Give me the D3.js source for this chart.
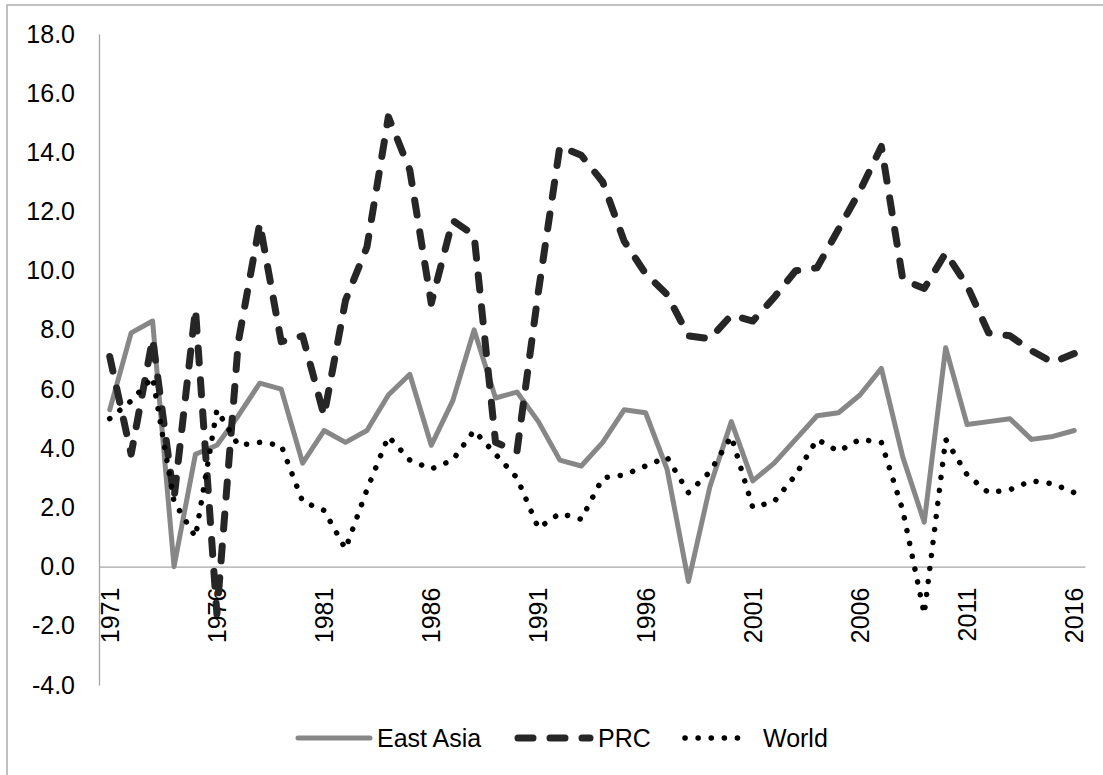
<!DOCTYPE html>
<html>
<head>
<meta charset="utf-8">
<script src="https://cdn.jsdelivr.net/npm/d3@7"></script>
<style>
  body { margin: 0; background: #fff; }
  svg { font-family: "Liberation Sans", Arial, sans-serif; }
</style>
</head>
<body>
<div class="visHolder"></div>
<script>
var years = d3.range(1971, 2017);

var eastAsia = [5.3, 7.9, 8.3, 0.0, 3.8, 4.1, 5.1, 6.2, 6.0, 3.5,
  4.6, 4.2, 4.6, 5.8, 6.5, 4.1, 5.6, 8.0, 5.7, 5.9,
  4.9, 3.6, 3.4, 4.2, 5.3, 5.2, 3.3, -0.5, 2.7, 4.9,
  2.9, 3.5, 4.3, 5.1, 5.2, 5.8, 6.7, 3.7, 1.5, 7.4,
  4.8, 4.9, 5.0, 4.3, 4.4, 4.6];

var prc = [7.1, 3.8, 7.7, 2.3, 8.7, -1.6, 7.6, 11.6, 7.6, 7.8,
  5.1, 9.0, 10.8, 15.2, 13.4, 8.9, 11.7, 11.2, 4.2, 3.9,
  9.3, 14.2, 13.9, 13.0, 11.0, 9.9, 9.2, 7.8, 7.7, 8.5,
  8.3, 9.1, 10.0, 10.1, 11.4, 12.7, 14.2, 9.7, 9.4, 10.6,
  9.5, 7.9, 7.8, 7.3, 6.9, 7.2];

var world = [5.0, 5.6, 6.4, 2.2, 1.0, 5.3, 4.1, 4.2, 4.1, 2.2,
  1.9, 0.6, 2.6, 4.4, 3.6, 3.3, 3.6, 4.6, 3.8, 3.0,
  1.3, 1.8, 1.6, 3.0, 3.1, 3.4, 3.7, 2.5, 3.2, 4.4,
  2.0, 2.2, 3.1, 4.3, 3.9, 4.3, 4.2, 1.9, -1.6, 4.3,
  3.1, 2.5, 2.6, 2.9, 2.8, 2.5];

var yTicks = [-4, -2, 0, 2, 4, 6, 8, 10, 12, 14, 16, 18];
var xTickYears = [1971, 1976, 1981, 1986, 1991, 1996, 2001, 2006, 2011, 2016];

var seriesNames = ['East Asia', 'PRC', 'World'];

var width = 1103,
  height = 775,
  fontSize = 25;

var svg = d3
  .select('.visHolder')
  .append('svg')
  .attr('width', width)
  .attr('height', height);

// chart border (only left/top edges fall inside the picture)
svg
  .append('rect')
  .attr('x', 7)
  .attr('y', 5)
  .attr('width', 1110)
  .attr('height', 800)
  .attr('fill', 'none')
  .attr('stroke', '#a0a0a0')
  .attr('stroke-width', 1.3);

var xScale = d3
  .scaleBand()
  .domain(years)
  .range([99, 1085]);

var yScale = d3.scaleLinear().domain([-4, 18]).range([685, 34]);

var yAxis = d3
  .axisLeft(yScale)
  .tickValues(yTicks)
  .tickFormat(function (d) {
    return d.toFixed(1); // plain hyphen for negatives, like the original
  })
  .tickSize(0)
  .tickPadding(24);

var gy = svg
  .append('g')
  .attr('transform', 'translate(99, 0)')
  .call(yAxis);
gy.select('.domain').attr('stroke', '#a6a6a6').attr('stroke-width', 1.3);
gy.selectAll('text')
  .attr('font-size', fontSize)
  .attr('fill', '#000')
  .attr('font-family', '"Liberation Sans", Arial, sans-serif');

var xAxis = d3
  .axisBottom(xScale)
  .tickValues(xTickYears)
  .tickSize(0)
  .tickSizeOuter(0);

var gx = svg
  .append('g')
  .attr('transform', 'translate(0, ' + yScale(0) + ')')
  .call(xAxis);
gx.select('.domain').attr('stroke', '#a6a6a6').attr('stroke-width', 1.3);
gx.selectAll('text')
  .attr('font-size', fontSize)
  .attr('fill', '#000')
  .attr('font-family', '"Liberation Sans", Arial, sans-serif')
  .attr('transform', 'rotate(-90)')
  .attr('x', -21)
  .attr('y', 0)
  .attr('dy', '0.36em')
  .style('text-anchor', 'end');

var line = d3
  .line()
  .x(function (d, i) {
    return xScale(years[i]) + xScale.bandwidth() / 2;
  })
  .y(function (d) {
    return yScale(d);
  });

var styles = [
  { color: '#878787', w: 5, dash: null, cap: 'round' },
  { color: '#262626', w: 7, dash: '15,17', cap: 'round' },
  { color: '#000000', w: 5.5, dash: '0.1,13', cap: 'round' }
];

[eastAsia, prc, world].forEach(function (data, k) {
  var s = styles[k];
  svg
    .append('path')
    .datum(data)
    .attr('d', line)
    .attr('fill', 'none')
    .attr('stroke', s.color)
    .attr('stroke-width', s.w)
    .attr('stroke-linejoin', 'round')
    .attr('stroke-linecap', s.cap)
    .attr('stroke-dasharray', s.dash);
});

// legend
var legendX = [298, 518, 685];
var legendLen = [72, 72, 57];
var legendTextX = [377, 598, 763];
var legendY = 738;

seriesNames.forEach(function (name, k) {
  var s = styles[k];
  svg
    .append('line')
    .attr('x1', legendX[k])
    .attr('x2', legendX[k] + legendLen[k])
    .attr('y1', legendY)
    .attr('y2', legendY)
    .attr('stroke', s.color)
    .attr('stroke-width', s.w)
    .attr('stroke-linecap', s.cap)
    .attr('stroke-dasharray', s.dash);
  svg
    .append('text')
    .attr('x', legendTextX[k])
    .attr('y', legendY)
    .attr('dy', '0.36em')
    .attr('font-size', fontSize)
    .attr('fill', '#000')
    .text(name);
});
</script>
</body>
</html>
